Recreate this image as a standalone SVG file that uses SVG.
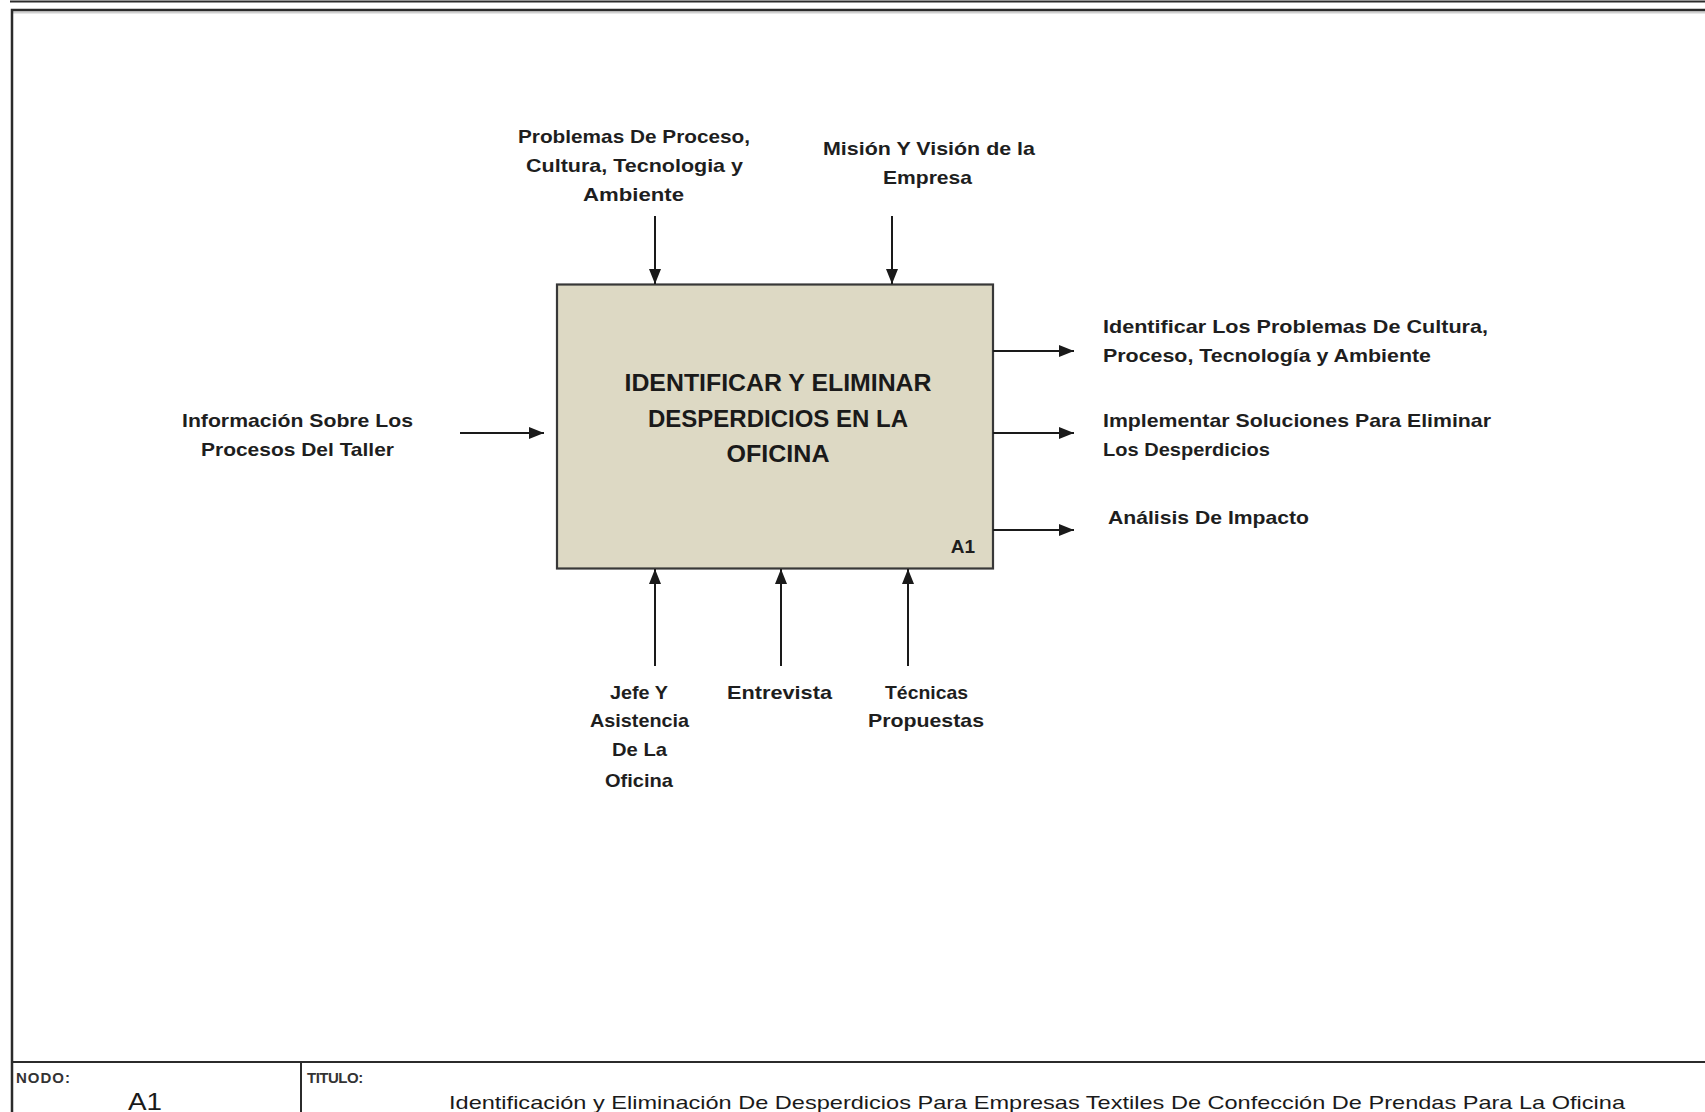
<svg xmlns="http://www.w3.org/2000/svg" width="1705" height="1112" viewBox="0 0 1705 1112">
  <style>
    .frame { fill: none; stroke: #2b2b2b; stroke-width: 2.5; }
    .conn { stroke: #1a1a1a; stroke-width: 2; fill: none; }
    .lbl { font-family: "Liberation Sans", Arial, sans-serif; font-weight: bold; font-size: 18.5px; fill: #1e1e1e; }
    .box { fill: #DDD9C4; stroke: #383838; stroke-width: 2.2; }
    .boxtitle { font-family: "Liberation Sans", Arial, sans-serif; font-weight: bold; font-size: 24px; fill: #1a1a1a; text-anchor: middle; }
    .meta { font-family: "Liberation Sans", Arial, sans-serif; font-size: 15px; fill: #333; }
    .nodeid { font-family: "Liberation Sans", Arial, sans-serif; font-size: 24px; fill: #1a1a1a; text-anchor: middle; }
    .title { font-family: "Liberation Sans", Arial, sans-serif; font-size: 19px; fill: #1a1a1a; }
  </style>
  <defs>
    <marker id="arrow" markerUnits="userSpaceOnUse" markerWidth="15" markerHeight="12" refX="15" refY="6" orient="auto">
      <path d="M0,0 L15,6 L0,12 z" fill="#1a1a1a"/>
    </marker>
  </defs>

  <rect width="1705" height="1112" fill="#ffffff"/>

  <!-- sheet frame -->
  <g id="sheet">
    <line x1="10" y1="1.5" x2="1705" y2="1.5" stroke="#2b2b2b" stroke-width="2"/>
    <line x1="12" y1="12.5" x2="1705" y2="12.5" stroke="#d0d0d0" stroke-width="2"/>
    <path class="frame" d="M1705,10 L12,10 L12,1112"/>
    <line x1="12" y1="1062" x2="1705" y2="1062" stroke="#2b2b2b" stroke-width="2"/>
    <line x1="301" y1="1062" x2="301" y2="1112" stroke="#2b2b2b" stroke-width="2"/>
    <text class="meta" x="16" y="1083" letter-spacing="1" font-weight="bold">NODO:</text>
    <text class="nodeid" x="145" y="1110" textLength="34" lengthAdjust="spacingAndGlyphs">A1</text>
    <text class="meta" x="307" y="1083" letter-spacing="-0.5" font-weight="bold">TITULO:</text>
    <text class="title" x="449" y="1109" textLength="1176" lengthAdjust="spacingAndGlyphs">Identificación y Eliminación De Desperdicios Para Empresas Textiles De Confección De Prendas Para La Oficina</text>
  </g>

  <!-- activity box -->
  <g id="node-a1">
    <rect class="box" x="557" y="284.5" width="436" height="284"/>
    <text class="boxtitle" x="778" y="391" textLength="307" lengthAdjust="spacingAndGlyphs">IDENTIFICAR Y ELIMINAR</text>
    <text class="boxtitle" x="778" y="427" textLength="260" lengthAdjust="spacingAndGlyphs">DESPERDICIOS EN LA</text>
    <text class="boxtitle" x="778" y="462" textLength="103" lengthAdjust="spacingAndGlyphs">OFICINA</text>
    <text class="lbl" x="975" y="553" text-anchor="end" style="font-size:19px">A1</text>
  </g>

  <!-- connectors -->
  <g id="connectors">
    <line class="conn" x1="655" y1="216" x2="655" y2="284" marker-end="url(#arrow)"/>
    <line class="conn" x1="892" y1="216" x2="892" y2="284" marker-end="url(#arrow)"/>
    <line class="conn" x1="460" y1="433" x2="544" y2="433" marker-end="url(#arrow)"/>
    <line class="conn" x1="993" y1="351" x2="1074" y2="351" marker-end="url(#arrow)"/>
    <line class="conn" x1="993" y1="433" x2="1074" y2="433" marker-end="url(#arrow)"/>
    <line class="conn" x1="993" y1="530" x2="1074" y2="530" marker-end="url(#arrow)"/>
    <line class="conn" x1="655" y1="666" x2="655" y2="569" marker-end="url(#arrow)"/>
    <line class="conn" x1="781" y1="666" x2="781" y2="569" marker-end="url(#arrow)"/>
    <line class="conn" x1="908" y1="666" x2="908" y2="569" marker-end="url(#arrow)"/>
  </g>

  <!-- controls -->
  <g id="control-problemas">
    <text class="lbl" x="518" y="143" textLength="232" lengthAdjust="spacingAndGlyphs">Problemas De Proceso,</text>
    <text class="lbl" x="526" y="172" textLength="217" lengthAdjust="spacingAndGlyphs">Cultura, Tecnologia  y</text>
    <text class="lbl" x="583" y="201" textLength="101" lengthAdjust="spacingAndGlyphs">Ambiente</text>
  </g>
  <g id="control-mision">
    <text class="lbl" x="823" y="155" textLength="212" lengthAdjust="spacingAndGlyphs">Misión Y Visión de la</text>
    <text class="lbl" x="883" y="184" textLength="89" lengthAdjust="spacingAndGlyphs">Empresa</text>
  </g>

  <!-- input -->
  <g id="input-informacion">
    <text class="lbl" x="182" y="427" textLength="231" lengthAdjust="spacingAndGlyphs">Información Sobre Los</text>
    <text class="lbl" x="201" y="456" textLength="193" lengthAdjust="spacingAndGlyphs">Procesos Del Taller</text>
  </g>

  <!-- outputs -->
  <g id="output-identificar">
    <text class="lbl" x="1103" y="333" textLength="385" lengthAdjust="spacingAndGlyphs">Identificar Los Problemas  De Cultura,</text>
    <text class="lbl" x="1103" y="362" textLength="328" lengthAdjust="spacingAndGlyphs">Proceso, Tecnología  y Ambiente</text>
  </g>
  <g id="output-implementar">
    <text class="lbl" x="1103" y="427" textLength="388" lengthAdjust="spacingAndGlyphs">Implementar Soluciones Para Eliminar</text>
    <text class="lbl" x="1103" y="456" textLength="167" lengthAdjust="spacingAndGlyphs">Los Desperdicios</text>
  </g>
  <g id="output-analisis">
    <text class="lbl" x="1108" y="524" textLength="201" lengthAdjust="spacingAndGlyphs">Análisis De Impacto</text>
  </g>

  <!-- mechanisms -->
  <g id="mechanism-jefe">
    <text class="lbl" x="610" y="699" textLength="58" lengthAdjust="spacingAndGlyphs">Jefe Y</text>
    <text class="lbl" x="590" y="727" textLength="99" lengthAdjust="spacingAndGlyphs">Asistencia</text>
    <text class="lbl" x="612" y="756" textLength="55" lengthAdjust="spacingAndGlyphs">De La</text>
    <text class="lbl" x="605" y="787" textLength="68" lengthAdjust="spacingAndGlyphs">Oficina</text>
  </g>
  <g id="mechanism-entrevista">
    <text class="lbl" x="727" y="699" textLength="105" lengthAdjust="spacingAndGlyphs">Entrevista</text>
  </g>
  <g id="mechanism-tecnicas">
    <text class="lbl" x="885" y="699" textLength="83" lengthAdjust="spacingAndGlyphs">Técnicas</text>
    <text class="lbl" x="868" y="727" textLength="116" lengthAdjust="spacingAndGlyphs">Propuestas</text>
  </g>
</svg>
